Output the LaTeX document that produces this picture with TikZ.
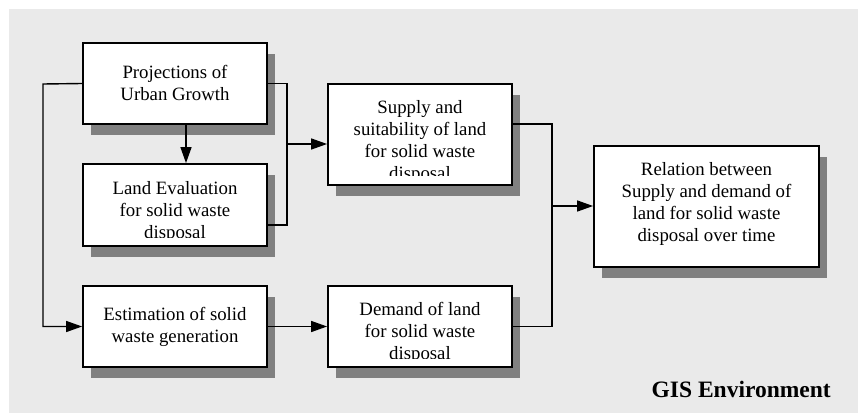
\documentclass[tikz,border=0pt]{standalone}
\usepackage{fontspec}
\setmainfont{Liberation Serif}
\usetikzlibrary{arrows.meta,shadows}
\definecolor{bg}{RGB}{234,234,234}
\definecolor{shade}{RGB}{128,128,128}
\begin{document}
\begin{tikzpicture}[x=1pt,y=-1pt,
  procbox/.style={draw=black,line width=1.8pt,fill=white,inner sep=0pt,
    drop shadow={shadow xshift=8pt,shadow yshift=-11pt,fill=shade,opacity=1}},
  boxtxt/.style={anchor=north,inner sep=0pt,align=center,font=\fontsize{18.8}{22}\selectfont},
  conn/.style={line width=1.4pt},
  arr/.style={conn,-{Triangle[length=16pt,width=11pt]}}]
\useasboundingbox (0,0) rectangle (858,414);
\fill[bg] (9,9) rectangle (858,413);
% boxes
\node[procbox,minimum width=184pt,minimum height=81pt] (b1) at (175,83.5) {};
\node[procbox,minimum width=184pt,minimum height=82pt] (b2) at (175,205) {};
\node[procbox,minimum width=184pt,minimum height=81pt] (b3) at (175,326.5) {};
\node[procbox,minimum width=184pt,minimum height=81pt] (b4) at (420,326.5) {};
\node[procbox,minimum width=184pt,minimum height=101pt] (b5) at (420,134.5) {};
\node[procbox,minimum width=225pt,minimum height=121pt] (b6) at (706.5,206.5) {};
% texts
\node[boxtxt] (t1) at (175,62.6) {\strut Projections of\\Urban Growth};
\node[boxtxt] (t3) at (175,304.6) {\strut Estimation of solid\\waste generation};
\node[boxtxt] (t6) at (706.5,159.6) {\strut Relation between\\Supply and demand of\\land for solid waste\\disposal over time};
\begin{scope}
  \clip (84,165) rectangle (266,237);
  \node[boxtxt] (t2) at (175,178.6) {\strut Land Evaluation\\for solid waste\\disposal};
\end{scope}
\begin{scope}
  \clip (329,85) rectangle (511,175);
  \node[boxtxt] (t5) at (420,97.6) {\strut Supply and\\suitability of land\\for solid waste\\disposal};
\end{scope}
\begin{scope}
  \clip (329,287) rectangle (511,358);
  \node[boxtxt] (t4) at (420,299.6) {\strut Demand of land\\for solid waste\\disposal};
\end{scope}
% junction coordinates
\coordinate (j0) at (43,84);
\coordinate (j1) at (287,144);
\coordinate (j2) at (552,206);
% connectors
\draw[arr] (b1.west) -- (j0) |- (b3.west);
\draw[arr] ([xshift=11pt]b1.south) -- ([xshift=11pt]b2.north);
\draw[conn] (b1.east) -| (j1) |- ([yshift=-20pt]b2.east);
\draw[arr] (j1) -- (j1 -| b5.west);
\draw[conn] ([yshift=10.5pt]b5.east) -| (j2) |- (b4.east);
\draw[arr] (j2) -- (j2 -| b6.west);
\draw[arr] (b3.east) -- (b4.west);
% label
\node[anchor=base east,inner sep=0pt,font=\fontsize{23.5}{28}\selectfont\bfseries] (gis) at (831,397) {GIS Environment};
\end{tikzpicture}
\end{document}
